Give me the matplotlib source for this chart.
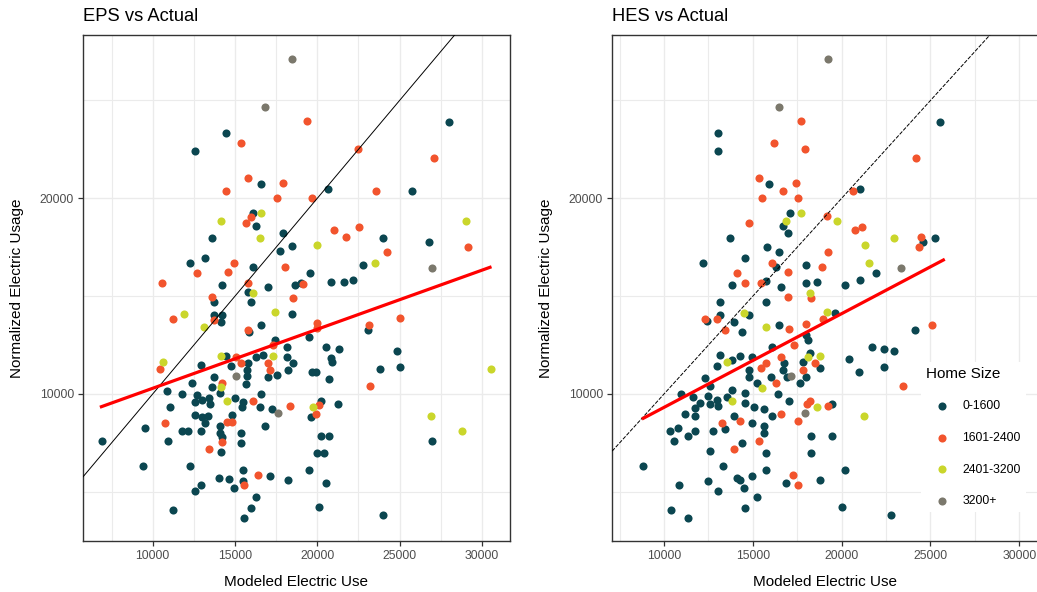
import numpy as np
import matplotlib
matplotlib.use('Agg')
from matplotlib import pyplot as plt
from matplotlib.ticker import FixedLocator

plt.rcParams['font.family'] = ['Liberation Sans', 'DejaVu Sans']

# home size groups and colours
groups = ['0-1600', '1601-2400', '2401-3200', '3200+']
colors = ['#0b4650', '#f2542d', '#cad62b', '#7b786c']

# ---- EPS vs Actual (modeled, actual) ----
eps_small = [(14435,23352),(12588,22417),(16598,20716),(16093,19264),(16294,18569),(13621,17971),
             (17934,18227),(17734,17292),(18445,17547),(12284,16679),(13196,16934),(16093,16505),
             (14228,15570),(17005,15483),(18645,15570),(15771,15227),(13724,14686),(15990,14686),
             (18445,14103),(13724,14021),(14228,14021),(14149,13679),(16598,13510),(15869,13168),
             (17412,12744),(18141,12417),(18542,11569),(14435,11942),(15771,11569),(16294,11906),
             (16701,11993),(17005,10884),(17533,10971),(18141,11906),(18238,11226),(15711,11226),
             (14757,11431),(12916,11482),(15711,10920),(13724,10884),(12388,10547),(13621,10373),
             (15668,10496),(16598,9985),(10851,10153),(11762,9985),(12673,9949),(12570,9607),
             (12977,9693),(13439,9780),(13481,9489),(14089,10036),(15000,9780),(15505,9607),
             (15444,9351),(16500,9320),(17229,9218),(11051,9320),(9514,8278),(6902,7598),
             (10930,7598),(11762,8109),(12163,8109),(12916,8109),(12570,8927),(12977,8809),
             (13378,8876),(13177,8533),(14799,8927),(14089,8346),(14089,8006),(14192,7824),
             (14149,7052),(15365,7991),(15365,7511),(16804,8365),(9392,6321),(12284,6321),
             (15468,6117),(14046,5708),(14654,5641),(15468,5539),(17108,5793),(18238,5620),
             (12916,5365),(12570,5028),(14957,5197),(16294,4752),(15990,4159),(15565,3648),
             (11252,4073),(20103,4241),(28019,23883),(20632,20460),(25753,20358),(24010,17956),
             (22758,16592),(19575,16168),(20814,15740),(21640,15740),(22150,15825),(18992,15657),
             (26786,17786),(23051,13270),(19496,12928),(20510,12417),(21337,12300),(20814,11824),
             (20915,11620),(24824,12213),(25024,11364),(23791,11278),(19660,11108),(19903,11108),
             (20711,10766),(20206,9658),(19599,8809),(21240,9473),(26987,7598),(20206,7854),
             (20711,7854),(20000,6985),(20407,6985),(19496,6132),(20510,5452),(24010,3817)]
eps_medium = [(15365,22841),(15771,21053),(17934,20797),(14435,20358),(17533,20031),(15972,19060),
              (15668,18753),(14957,16679),(14556,16250),(12691,16168),(18038,16505),(10547,15657),
              (15771,15657),(13621,14972),(18542,14890),(11252,13848),(13724,13766),(15771,13255),
              (17327,12504),(15079,11906),(15365,11600),(17005,11569),(17108,11226),(10443,11262),
              (14228,10577),(16093,9658),(18341,9387),(10747,8533),(14496,8585),(14799,8585),
              (14228,7563),(13420,7174),(15565,5365),(16397,5876),(19374,23965),(22454,22504),
              (27090,22075),(19696,20031),(23585,20358),(21033,18380),(21744,18040),(22552,18549),
              (24216,17272),(29155,17527),(19150,15620),(20000,13613),(20000,13357),(23154,13526),
              (25024,13868),(23232,10409),(20121,9438),(19903,8978)]
eps_large = [(16598,19264),(14149,18825),(16500,17971),(16093,15146),(11883,14103),(17412,14190),
             (13098,13424),(14149,11942),(17327,11942),(10644,11651),(14149,10373),(14532,9658),
             (20000,17630),(23487,16679),(29053,18825),(30571,11278),(19757,9320),(26889,8876),
             (28809,8109)]
eps_xlarge = [(18445,27118),(16804,24650),(15061,10920),(17631,9045),(26987,16424)]
eps_fit = [(6884, 9351), (30492, 16474)]

# ---- HES vs Actual ----
hes_small = [(13057,23352),(13057,22417),(15929,20716),(17078,19264),(16683,18585),(16965,18242),
             (13733,17971),(15816,17527),(16492,17272),(14578,16934),(12213,16679),(16306,16505),
             (18012,16592),(13829,15570),(15726,15790),(16588,15483),(18012,15657),(18598,15740),
             (15726,14686),(13153,14716),(12404,13746),(13153,14021),(14786,14021),(13924,13679),
             (14392,13168),(16492,13510),(18012,12999),(18108,12744),(16098,12417),(13153,11993),
             (13829,11737),(14296,11942),(14972,11875),(12967,11446),(14803,11226),(14803,10884),
             (16774,11569),(16683,11226),(16909,10884),(16025,10884),(17843,11651),(18204,12079),
             (18784,11313),(18012,10853),(17641,10547),(15253,10547),(12309,10835),(12590,10409),
             (10957,9985),(11650,9862),(12027,9556),(12461,9898),(12590,9489),(12967,9693),
             (13057,9387),(13530,9829),(13811,10204),(14578,10068),(14578,9556),(15068,9320),
             (15631,9218),(16402,9985),(17055,9642),(11166,8963),(11745,8876),(11745,9300),
             (16098,8876),(13435,8196),(13924,8876),(14972,8533),(15631,8365),(15631,8023),
             (10338,8109),(10771,8278),(10580,7583),(11334,7854),(11745,8109),(12776,8109),
             (14392,7511),(12590,7072),(15726,6985),(18294,7854),(18294,6985),(8834,6321),
             (13339,6321),(15726,6132),(10864,5365),(12495,5539),(13057,5028),(14093,5708),
             (14296,5606),(14955,5793),(14488,5197),(15253,4752),(14578,4159),(10377,4073),
             (11334,3648),(16869,5452),(18784,5620),(25541,23883),(21053,20460),(24583,17786),
             (25259,17956),(21920,16168),(21053,15825),(20208,15570),(19628,14124),(24115,13255),
             (21712,12386),(22405,12300),(22967,12213),(20400,11788),(20980,11108),(22405,11364),
             (19459,9473),(19442,7854),(20208,6132),(20023,4241),(22782,3817)]
hes_medium = [(17731,23965),(16194,22841),(17922,22504),(15349,21053),(16683,20358),(17449,20797),
              (15535,20031),(17545,20031),(14769,18753),(19161,19095),(19251,17272),(16098,16679),
              (16965,16250),(18879,16505),(14093,16168),(14578,15657),(15445,15657),(16965,14972),
              (18294,14890),(12309,13848),(12967,13848),(13452,13255),(17055,13337),(18012,13592),
              (18970,13848),(17337,12504),(15726,11569),(15445,11313),(16588,11875),(16306,10577),
              (17826,11226),(18485,11569),(16588,8963),(18204,9658),(18035,9473),(19251,9387),
              (17545,8620),(13247,8533),(14296,8620),(15349,7583),(13924,7174),(17246,5876),
              (17545,5365),(24206,22075),(20659,20358),(20755,18380),(21149,18549),(24488,18040),
              (24375,17527),(25073,13510),(23440,10409)]
hes_large = [(17731,19264),(16869,18825),(18204,15146),(14521,14124),(15726,13424),(19161,14190),
             (13530,11651),(18108,11906),(18784,11942),(15535,10322),(13829,9658),(18598,9320),
             (19741,18825),(21334,17614),(22967,17956),(21526,16679),(21244,8876)]
hes_xlarge = [(19251,27118),(16492,24650),(17151,10920),(17922,9045),(23345,16424)]
hes_fit = [(8834, 8758), (25726, 16847)]

panels = [
    ('EPS vs Actual', [eps_small, eps_medium, eps_large, eps_xlarge], eps_fit, (5766, 31707), '-'),
    ('HES vs Actual', [hes_small, hes_medium, hes_large, hes_xlarge], hes_fit, (7072, 31053), (0, (4, 1.5))),
]

fig = plt.figure(figsize=(10.37, 5.92), dpi=100)
ax1 = fig.add_axes([83/1037, 51/592, 427/1037, 506/592])
ax2 = fig.add_axes([612/1037, 51/592, 426/1037, 506/592])
ylim = (2488, 28344)

handles = []
for ax, (title, sets, fit, xlim, ls) in zip([ax1, ax2], panels):
    for pts, c, g in zip(sets, colors, groups):
        p = np.array(pts)
        h = ax.scatter(p[:, 0], p[:, 1], s=34, color=c, linewidths=0, label=g, zorder=3)
        if ax is ax2:
            handles.append(h)
    # identity line
    ax.plot([0, 40000], [0, 40000], color='black', lw=0.7, ls=ls, zorder=4)
    f = np.array(fit)
    ax.plot(f[:, 0], f[:, 1], color='red', lw=2.3, zorder=5)

    ax.set_xlim(xlim)
    ax.set_ylim(ylim)
    ax.xaxis.set_major_locator(FixedLocator([10000, 15000, 20000, 25000, 30000]))
    ax.xaxis.set_minor_locator(FixedLocator([7500, 12500, 17500, 22500, 27500]))
    ax.yaxis.set_major_locator(FixedLocator([10000, 20000]))
    ax.yaxis.set_minor_locator(FixedLocator([5000, 15000, 25000]))
    ax.grid(which='major', color='#ebebeb', lw=1.0, zorder=0)
    ax.grid(which='minor', color='#ebebeb', lw=0.8, zorder=0)
    ax.set_axisbelow(True)
    ax.tick_params(which='major', length=3.5, width=0.9, color='#333333',
                   labelsize=8.8, labelcolor='#4d4d4d', pad=3)
    ax.tick_params(which='minor', length=0)
    for s in ax.spines.values():
        s.set_color('#333333')
        s.set_linewidth(1.0)
    ax.set_title(title, loc='left', fontsize=13.2, pad=10)
    ax.set_xlabel('Modeled Electric Use', fontsize=11, labelpad=9)
    ax.set_ylabel('Normalized Electric Usage', fontsize=11, labelpad=11)

leg = ax2.legend(handles=handles, title='Home Size', loc='upper left',
                 bbox_to_anchor=(921/1037, 1 - 362/592), bbox_transform=fig.transFigure,
                 borderaxespad=0, frameon=True, facecolor='white', edgecolor='none',
                 framealpha=1, fancybox=False, fontsize=8.8, title_fontsize=11,
                 labelspacing=1.6, handlelength=2.6, handletextpad=0.4, borderpad=0.4,
                 scatterpoints=1)
leg._legend_box.align = 'left'

plt.savefig('out.png', dpi=100)
